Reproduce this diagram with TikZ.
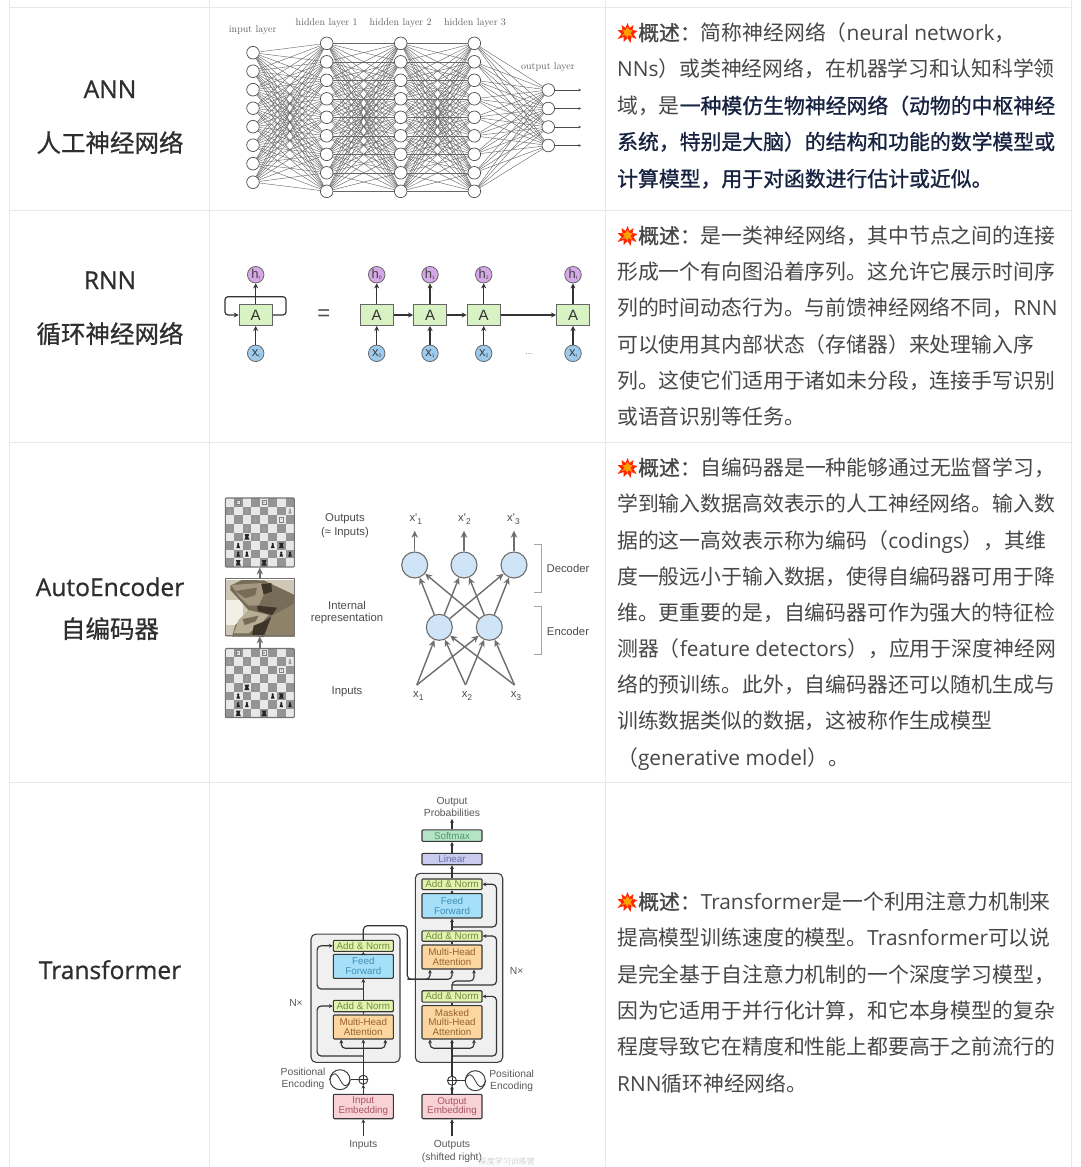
\documentclass[tikz,border=0pt]{standalone}
\usepackage{fontspec}
\usetikzlibrary{arrows.meta,shapes.geometric}
\setmainfont{Noto Sans CJK SC}
\newfontfamily\latf{Open Sans}
\newfontfamily\arl{Liberation Sans}
\newfontfamily\cjmed[FakeBold=0.7]{Noto Sans CJK SC}
\newfontfamily\cjsemi[FakeBold=1.1]{Noto Sans CJK SC}
\newfontfamily\latmed[FakeBold=0.7]{Open Sans}
\newfontfamily\lmr{Latin Modern Roman}
\newcommand{\la}[1]{{\latf #1}}
\newcommand{\bb}[1]{{\cjsemi #1}}
\newcommand{\fsz}[1]{\fontsize{#1}{#1}\selectfont}
\definecolor{rule}{HTML}{E8E8E8}
\definecolor{bodyc}{HTML}{474747}
\definecolor{navy}{HTML}{16223F}
\definecolor{ink}{HTML}{2E2E2E}
\definecolor{aegray}{HTML}{6E6E6E}
\definecolor{tline}{HTML}{333333}
\definecolor{rnng}{HTML}{D9F2C4}
\definecolor{rnnp}{HTML}{D6A8E8}
\definecolor{rnnb}{HTML}{9CCBEE}
\definecolor{aeblue}{HTML}{CFE4F6}
\definecolor{tgreen}{HTML}{6F8F3A}
\definecolor{tsoft}{HTML}{4F9A6C}
\definecolor{tlin}{HTML}{6D70A8}
\definecolor{tblue}{HTML}{3F8FB5}
\definecolor{torange}{HTML}{99622A}
\definecolor{tred}{HTML}{A85565}
\tikzset{
  rowtxt/.style={anchor=base west,inner sep=0pt,text=bodyc,font=\fsz{20.85}},
  lefttxt/.style={anchor=base,inner sep=0pt,text=ink,font=\fsz{24.5}\cjmed},
  leftlat/.style={anchor=base,inner sep=0pt,text=ink,font=\fsz{24.6}\latmed},
  neuron/.style={circle,draw=black!70,fill=white,line width=.7pt,minimum size=12.6pt,inner sep=0pt},
  nnedge/.style={draw=black!60,line width=.42pt},
  nnlab/.style={inner sep=0pt,text=black!62,font=\fsz{10}\lmr},
  rbox/.style={draw=black!60,fill=rnng,line width=1pt,minimum width=33pt,minimum height=21pt,inner sep=0pt,font=\fsz{15}\arl,text=black!80},
  rh/.style={circle,draw=black!60,fill=rnnp,line width=.8pt,minimum size=16.5pt,inner sep=0pt,font=\fsz{13}\arl,text=black!75},
  rx/.style={circle,draw=black!60,fill=rnnb,line width=.8pt,minimum size=16.5pt,inner sep=0pt,font=\fsz{13}\arl,text=black!75},
  rarrow/.style={draw=black!80,line width=1.2pt,-{Stealth[length=5pt,width=5pt]}},
  aelab/.style={inner sep=0pt,text=black!70,font=\fsz{11.3}\arl,align=center},
  aec/.style={circle,draw=aegray,fill=aeblue,line width=1.1pt,minimum size=26pt,inner sep=0pt},
  aearrow/.style={draw=aegray,line width=1.4pt,-{Stealth[length=7pt,width=6.5pt]}},
  aebrk/.style={draw=black!35,line width=.7pt},
  tbox/.style={draw=black!78,line width=1.1pt,rounded corners=1pt,minimum width=60pt,inner sep=0pt,align=center,font=\fsz{9.8}\arl},
  tbig/.style={draw=black!75,fill=black!6,line width=1.1pt,rounded corners=5pt},
  tlab/.style={inner sep=0pt,align=center,text=black!65,font=\fsz{10.3}\arl},
  tarrow/.style={draw=tline,line width=1.15pt,-{Stealth[length=3.8pt,width=3.8pt]}},
  tline/.style={draw=tline,line width=1.15pt},
  tres/.style={tarrow,rounded corners=4pt},
}
\newcommand{\boom}[2]{%
  \begin{scope}[shift={(#1,#2)}]
    \fill[red!70!orange] plot coordinates {(0,-10)(2,-5)(6,-8)(5,-3)(10,-2)(6,1)(9,6)(4,4)(3,10)(0,5)(-4,9)(-4,4)(-10,6)(-6,1)(-10,-3)(-5,-3)(-6,-8)(-2,-5)} -- cycle;
    \fill[orange!75!yellow] plot coordinates {(0,-6)(2,-3)(5,-3)(3,0)(5,4)(1,2)(0,5)(-2,2)(-6,3)(-3,0)(-5,-3)(-2,-3)} -- cycle;
  \end{scope}}
\newcommand{\pawnW}[2]{\fill[black!38] (#1,#2-1.5) circle (1.1pt);\fill[black!38] (#1-1.7,#2+2.6) -- (#1+1.7,#2+2.6) -- (#1+.6,#2-1) -- (#1-.6,#2-1) -- cycle;}
\newcommand{\pawnB}[2]{\fill[black!88] (#1,#2-1.5) circle (1.2pt);\fill[black!88] (#1-1.8,#2+2.6) -- (#1+1.8,#2+2.6) -- (#1+.6,#2-1) -- (#1-.6,#2-1) -- cycle;}
\newcommand{\bigW}[2]{\fill[black!8] (#1-2.4,#2-2.6) rectangle (#1+2.4,#2+2.6);\draw[black!50,line width=.6pt] (#1-2,#2-2.2) rectangle (#1+2,#2+2.2);\fill[black!35] (#1-.8,#2-.8) rectangle (#1+.8,#2+.8);}
\newcommand{\bigB}[2]{\fill[black!85] (#1-2.3,#2-2.6) -- (#1+2.3,#2-2.6) -- (#1+1.4,#2) -- (#1+2.6,#2+2.8) -- (#1-2.6,#2+2.8) -- (#1-1.4,#2) -- cycle;}
\newcommand{\chess}[3]{%
  \begin{scope}[shift={(#2,#3)}]
    \fill[black!9] (0,0) rectangle (69,69);
    \foreach \r in {0,...,7}{\foreach \c in {0,...,7}{%
      \pgfmathparse{int(mod(\r+\c,2))}%
      \ifnum\pgfmathresult=1 \fill[black!42] (\c*8.625,\r*8.625) rectangle +(8.625,8.625);\fi}}
    \bigW{12.9}{4.3}\bigW{38.8}{4.3}
    \pawnW{4.3}{12.9}\pawnW{21.6}{12.9}\pawnW{64.7}{12.9}
    \pawnW{30.2}{21.6}\bigW{56}{21.6}
    \pawnW{21.6}{30.2}\pawnW{38.8}{30.2}
    \bigB{21.6}{38.8}\pawnW{30.2}{38.8}
    \pawnB{12.9}{47.4}\pawnB{47.4}{47.4}\bigB{56}{47.4}
    \pawnB{12.9}{56}\pawnB{21.6}{56}\pawnB{56}{56}\pawnB{64.7}{56}
    \bigB{12.9}{64.7}\bigB{38.8}{64.7}
  \end{scope}
  \node[draw=black!55,line width=1.1pt,rounded corners=1pt,minimum width=69pt,minimum height=69pt,inner sep=0pt] (#1) at (#2+34.5,#3+34.5) {};}
\begin{document}
\begin{tikzpicture}[x=1pt,y=-1pt]
\useasboundingbox (0,0) rectangle (1080,1167);
\fill[white] (0,0) rectangle (1080,1167);
% table rules
\draw[rule,line width=1pt] (9.5,0) -- (9.5,1167) (209.5,0) -- (209.5,1167) (605,0) -- (605,1167) (1071,0) -- (1071,1167);
\draw[rule,line width=1pt] (9.5,7.5) -- (1071,7.5) (9.5,210) -- (1071,210) (9.5,442) -- (1071,442) (9.5,782) -- (1071,782);
% left column
\node[leftlat] (nann) at (110,98) {ANN};
\node[lefttxt] (cann) at (110,152) {人工神经网络};
\node[leftlat] (nrnn) at (110,289) {RNN};
\node[lefttxt] (crnn) at (110,343) {循环神经网络};
\node[leftlat] (nae) at (110,596) {AutoEncoder};
\node[lefttxt] (cae) at (110,638) {自编码器};
\node[leftlat] (ntr) at (110,979) {Transformer};
% right column text
\boom{627.5}{33}\boom{627.5}{236}\boom{627.5}{468}\boom{627.5}{902}
\node[rowtxt] (a1) at (638,40.5) {\bb{概述：}简称神经网络（\la{neural network}，};
\node[rowtxt] (a2) at (617,76.5) {\la{NNs}）或类神经网络，在机器学习和认知科学领};
\node[rowtxt] (a3) at (617,113.5) {域，是{\cjsemi\color{navy}一种模仿生物神经网络（动物的中枢神经}};
\node[rowtxt,text=navy,font=\fsz{20.85}\cjsemi] (a4) at (617,149.5) {系统，特别是大脑）的结构和功能的数学模型或};
\node[rowtxt,text=navy,font=\fsz{20.85}\cjsemi] (a5) at (617,186.5) {计算模型，用于对函数进行估计或近似。};
\node[rowtxt] (b1) at (638,243.5) {\bb{概述：}是一类神经网络，其中节点之间的连接};
\node[rowtxt] (b2) at (617,279.5) {形成一个有向图沿着序列。这允许它展示时间序};
\node[rowtxt] (b3) at (617,315.5) {列的时间动态行为。与前馈神经网络不同，\la{RNN}};
\node[rowtxt] (b4) at (617,352.5) {可以使用其内部状态（存储器）来处理输入序};
\node[rowtxt] (b5) at (617,388.5) {列。这使它们适用于诸如未分段，连接手写识别};
\node[rowtxt] (b6) at (617,424.5) {或语音识别等任务。};
\node[rowtxt] (c1) at (638,475.5) {\bb{概述：}自编码器是一种能够通过无监督学习，};
\node[rowtxt] (c2) at (617,511.5) {学到输入数据高效表示的人工神经网络。输入数};
\node[rowtxt] (c3) at (617,548.5) {据的这一高效表示称为编码（\la{codings}），其维};
\node[rowtxt] (c4) at (617,584.5) {度一般远小于输入数据，使得自编码器可用于降};
\node[rowtxt] (c5) at (617,620.5) {维。更重要的是，自编码器可作为强大的特征检};
\node[rowtxt] (c6) at (617,656.5) {测器（\la{feature detectors}），应用于深度神经网};
\node[rowtxt] (c7) at (617,692.5) {络的预训练。此外，自编码器还可以随机生成与};
\node[rowtxt] (c8) at (617,728.5) {训练数据类似的数据，这被称作生成模型};
\node[rowtxt] (c9) at (617,765.5) {（\la{generative model}）。};
\node[rowtxt] (d1) at (638,909.5) {\bb{概述：}\la{Transformer}是一个利用注意力机制来};
\node[rowtxt] (d2) at (617,945.5) {提高模型训练速度的模型。\la{Trasnformer}可以说};
\node[rowtxt] (d3) at (617,982.5) {是完全基于自注意力机制的一个深度学习模型，};
\node[rowtxt] (d4) at (617,1018.5) {因为它适用于并行化计算，和它本身模型的复杂};
\node[rowtxt] (d5) at (617,1054.5) {程度导致它在精度和性能上都要高于之前流行的};
\node[rowtxt] (d6) at (617,1091.5) {\la{RNN}循环神经网络。};
% ANN
\foreach \i in {1,...,8} \node[neuron] (i\i) at (253,34.2+18.5*\i) {};
\foreach \i in {1,...,9} {
  \node[neuron] (ha\i) at (326.7,24.8+18.5*\i) {};
  \node[neuron] (hb\i) at (400.7,24.8+18.5*\i) {};
  \node[neuron] (hc\i) at (474.3,24.8+18.5*\i) {};
}
\foreach \i in {1,...,4} {
  \node[neuron] (o\i) at (548.3,71.5+18.5*\i) {};
  \coordinate (oe\i) at (581,71.5+18.5*\i);
  \draw[draw=black!70,line width=.5pt,-{Stealth[length=2.5pt,width=2.5pt]}] (o\i) -- (oe\i);
}
\foreach \a in {1,...,8} \foreach \b in {1,...,9} \draw[nnedge] (i\a) -- (ha\b);
\foreach \a in {1,...,9} \foreach \b in {1,...,9} {\draw[nnedge] (ha\a) -- (hb\b); \draw[nnedge] (hb\a) -- (hc\b);}
\foreach \a in {1,...,9} \foreach \b in {1,...,4} \draw[nnedge] (hc\a) -- (o\b);
\node[nnlab] (li) at (252.7,30) {input layer};
\node[nnlab] (l1) at (326.7,23) {hidden layer 1};
\node[nnlab] (l2) at (400.7,23) {hidden layer 2};
\node[nnlab] (l3) at (475,23) {hidden layer 3};
\node[nnlab] (lo) at (548,67.5) {output layer};
% RNN
\node[rbox] (A) at (255.7,315) {A};
\node[rh] (h) at (255.7,274.7) {h\raisebox{-1pt}{\fsz{5}t}};
\node[rx] (x) at (255.7,353.3) {x\raisebox{-1pt}{\fsz{5}t}};
\draw[rarrow] (x) -- (A);
\draw[rarrow] (A) -- (h);
\coordinate (lpa) at (286,296.7);
\coordinate (lpb) at (225,296.7);
\draw[rarrow,rounded corners=3pt] (A.east) -| (lpa) -- (lpb) |- (A.west);
\node[inner sep=0pt,font=\fsz{22}\arl,text=black!70] (eq) at (323.7,315) {=};
\foreach \n/\px/\s in {0/376.7/0,1/430/1,2/483.7/2,3/573/t} {
  \node[rbox] (A\n) at (\px,315) {A};
  \node[rh] (h\n) at (\px,274.7) {h\raisebox{-1pt}{\fsz{5}\s}};
  \node[rx] (x\n) at (\px,353.3) {x\raisebox{-1pt}{\fsz{5}\s}};
  \draw[rarrow] (x\n) -- (A\n);
  \draw[rarrow] (A\n) -- (h\n);
}
\draw[rarrow] (A0) -- (A1);
\draw[rarrow] (A1) -- (A2);
\draw[rarrow] (A2) -- (A3);
\node[inner sep=0pt,font=\fsz{8}\arl,text=black!60] (dots) at (529,354) {...};
% AutoEncoder boards
\chess{bt}{225.3}{498}
\chess{bb}{225.3}{648.5}
\definecolor{thA}{HTML}{CFC8B6}\definecolor{thB}{HTML}{F2EFE6}\definecolor{thC}{HTML}{776C58}
\definecolor{thD}{HTML}{A39780}\definecolor{thE}{HTML}{3D3528}\definecolor{thF}{HTML}{B8AD95}\definecolor{thG}{HTML}{8E8269}
\begin{scope}[shift={(222,575)},scale=1/3]
  \fill[thA] (12,15) rectangle (218,185);
  \fill[thB] (12,75) rectangle (62,150);
  \fill[thC] (25,32) -- (60,15) -- (125,16) -- (150,28) -- (218,60) -- (218,185) -- (30,185) -- (40,150) -- (82,108) -- (50,72) -- (25,45) -- cycle;
  \fill[thD] (28,30) -- (118,24) -- (125,60) -- (110,92) -- (80,92) -- (52,65) -- cycle;
  \fill[thC] (40,48) -- (105,38) -- (100,60) -- (70,70) -- cycle;
  \fill[thE] (118,28) -- (148,24) -- (150,50) -- (125,58) -- cycle;
  \fill[thG] (145,125) -- (218,85) -- (218,185) -- (125,185) -- cycle;
  \fill[thE] (105,92) -- (165,98) -- (150,120) -- (108,108) -- cycle;
  \fill[thF] (50,135) -- (80,105) -- (140,120) -- (122,140) -- (80,175) -- (35,175) -- cycle;
  \fill[thC] (62,132) -- (110,122) -- (100,140) -- (68,150) -- cycle;
  \fill[thE] (95,152) -- (125,140) -- (148,125) -- (125,185) -- (90,182) -- cycle;
\end{scope}
\node[draw=black!55,line width=1.1pt,minimum width=69pt,minimum height=57pt,inner sep=0pt] (bm) at (259.8,607.3) {};
\draw[aearrow] (bm.north) -- (bt.south);
\draw[aearrow] (bb.north) -- (bm.south);
\node[aelab] (lo1) at (345,519) {Outputs};
\node[aelab] (lo2) at (345,533) {(≈ Inputs)};
\node[aelab] (lr1) at (347,605) {Internal};
\node[aelab] (lr2) at (347,618.5) {representation};
\node[aelab] (lr3) at (347,692) {Inputs};
\foreach \n/\px in {1/414.7,2/464,3/514} \node[aec] (D\n) at (\px,565) {};
\foreach \n/\px in {1/439.3,2/489.3} \node[aec] (E\n) at (\px,627.3) {};
\foreach \n/\px in {1/417.3,2/466,3/515} {
  \node[aelab] (X\n) at (\px+1,696) {x\raisebox{-3pt}{\fsz{8.5}\n}};
  \coordinate (Xa\n) at (\px-.5,685);
  \node[aelab] (Y\n) at (\px-1.5,519) {x'\raisebox{-3pt}{\fsz{8.5}\n}};
}
\foreach \n/\px in {1/414.7,2/464,3/514} {\coordinate (Ya\n) at (\px,530.7); \draw[aearrow] (D\n) -- (Ya\n);}
\foreach \a in {1,2,3} \foreach \b in {1,2} \draw[aearrow] (Xa\a) -- (E\b);
\foreach \a in {1,2} \foreach \b in {1,2,3} \draw[aearrow] (E\a) -- (D\b);
\coordinate (br1) at (534,544.3); \coordinate (br2) at (541,544.3); \coordinate (br3) at (541,592.3); \coordinate (br4) at (534,592.3);
\draw[aebrk] (br1) -- (br2) -- (br3) -- (br4);
\coordinate (bs1) at (534,606.7); \coordinate (bs2) at (541,606.7); \coordinate (bs3) at (541,654.3); \coordinate (bs4) at (534,654.3);
\draw[aebrk] (bs1) -- (bs2) -- (bs3) -- (bs4);
\node[aelab] (ldec) at (568,568.5) {Decoder};
\node[aelab] (lenc) at (568,631) {Encoder};
% Transformer
\node[tbig,minimum width=87.4pt,minimum height=189pt,inner sep=0pt] (bigD) at (459,967.8) {};
\node[tbig,minimum width=89pt,minimum height=128.3pt,inner sep=0pt] (bigE) at (355.5,998.2) {};
\definecolor{csoft}{HTML}{B5E3C5}\definecolor{clin}{HTML}{C9CBEF}\definecolor{cadd}{HTML}{E3F2B0}
\definecolor{cff}{HTML}{A6DFF8}\definecolor{cmh}{HTML}{FCD6A0}\definecolor{cemb}{HTML}{F9D2D6}
\node[tbox,fill=csoft,minimum height=11.4pt,text=tsoft] (Sf) at (452,835.6) {Softmax};
\node[tbox,fill=clin,minimum height=11.4pt,text=tlin] (Ln) at (452,859) {Linear};
\node[tbox,fill=cadd,minimum height=10.7pt,text=tgreen] (DA1) at (452,884.3) {Add \& Norm};
\node[tbox,fill=cff,minimum height=24.3pt,text=tblue] (DF) at (452,905.8) {Feed\\Forward};
\node[tbox,fill=cadd,minimum height=10.4pt,text=tgreen] (DA2) at (452,936) {Add \& Norm};
\node[tbox,fill=cmh,minimum height=24pt,text=torange] (DM) at (452,957) {Multi-Head\\Attention};
\node[tbox,fill=cadd,minimum height=11.3pt,text=tgreen] (DA3) at (452,996.4) {Add \& Norm};
\node[tbox,fill=cmh,minimum height=33.3pt,text=torange] (DMM) at (452,1022.3) {Masked\\Multi-Head\\Attention};
\node[tbox,fill=cemb,minimum height=24.4pt,text=tred] (OE) at (452,1106.5) {Output\\Embedding};
\node[tbox,fill=cadd,minimum height=11pt,text=tgreen] (EA1) at (363.3,945.8) {Add \& Norm};
\node[tbox,fill=cff,minimum height=24pt,text=tblue] (EF) at (363.3,966.3) {Feed\\Forward};
\node[tbox,fill=cadd,minimum height=11.4pt,text=tgreen] (EA2) at (363.3,1006) {Add \& Norm};
\node[tbox,fill=cmh,minimum height=24pt,text=torange] (EM) at (363.3,1027) {Multi-Head\\Attention};
\node[tbox,fill=cemb,minimum height=24.4pt,text=tred] (IE) at (363.3,1106.5) {Input\\Embedding};
\node[tlab] (op) at (452,807) {Output\\[2pt]Probabilities};
\coordinate (opa) at (452,819);
\node[tlab] (linp) at (363.3,1145.3) {Inputs};
\node[tlab] (loutp) at (452,1145.3) {Outputs};
\node[tlab] (lshift) at (452,1157.7) {(shifted right)};
\coordinate (ia) at (363.3,1136);
\coordinate (oa) at (452,1136);
\node[tlab] (nxd) at (516.7,971) {N×};
\node[tlab] (nxe) at (296,1002.7) {N×};
\node[tlab] (pe1) at (303,1078.7) {Positional\\[2pt]Encoding};
\node[tlab] (pe2) at (511.7,1080.7) {Positional\\[2pt]Encoding};
\node[circle,draw=black!75,fill=white,line width=1pt,minimum size=9pt,inner sep=0pt] (pe) at (363.3,1079.7) {};
\node[circle,draw=black!75,fill=white,line width=1pt,minimum size=9pt,inner sep=0pt] (pd) at (452,1080.7) {};
\draw[tline,line width=.7pt] (pe.north) -- (pe.south) (pe.west) -- (pe.east) (pd.north) -- (pd.south) (pd.west) -- (pd.east);
\node[circle,draw=black!75,fill=white,line width=1pt,minimum size=20pt,inner sep=0pt] (se) at (340,1079.7) {};
\node[circle,draw=black!75,fill=white,line width=1pt,minimum size=20pt,inner sep=0pt] (sd) at (475.3,1080.7) {};
\draw[tline,line width=.8pt] (se.west) .. controls +(4,-10) and +(-3,-6) .. (se.center) .. controls +(3,6) and +(-4,10) .. (se.east);
\draw[tline,line width=.8pt] (sd.west) .. controls +(4,-10) and +(-3,-6) .. (sd.center) .. controls +(3,6) and +(-4,10) .. (sd.east);
\draw[tline] (se) -- (pe);
\draw[tline] (sd) -- (pd);
\draw[tarrow] (Sf.north) -- (opa);
\draw[tarrow] (Ln.north) -- (Sf.south);
\draw[tarrow] (DA1.north) -- (Ln.south);
\draw[tarrow] (DF.north) -- (DA1.south);
\draw[tarrow] (DA2.north) -- (DF.south);
\draw[tline] (DM.north) -- (DA2.south);
\draw[tline] (DMM.north) -- (DA3.south);
\draw[tarrow] (pd) -- (DMM.south);
\draw[tarrow] (OE.north) -- (pd);
\draw[tarrow] (oa) -- (OE.south);
\draw[tarrow] (ia) -- (IE.south);
\draw[tarrow] (IE.north) -- (pe);
\draw[tarrow] (pe) -- (EM.south);
\draw[tline] (EM.north) -- (EA2.south);
\draw[tarrow] (EA2.north) -- (EF.south);
\draw[tarrow] (EF.north) -- (EA1.south);
% residuals
\coordinate (dr1) at (452,927); \coordinate (dr2) at (452,985); \coordinate (dr3) at (452,1056); \coordinate (dms) at (452,1048.3);
\coordinate (er1) at (363.3,1056); \coordinate (er2) at (363.3,989); \coordinate (ems) at (363.3,1048.3);
\draw[tres] (dr1) -| ([xshift=14pt]DA1.east) -- (DA1.east);
\draw[tres] (dr2) -| ([xshift=14pt]DA2.east) -- (DA2.east);
\draw[tres] (dr3) -| ([xshift=14pt]DA3.east) -- (DA3.east);
\draw[tres] (dms) -| ([xshift=-22pt]DMM.south);
\draw[tres] (dms) -| ([xshift=22pt]DMM.south);
\draw[tres] (er1) -| ([xshift=-15.6pt]EA2.west) -- (EA2.west);
\draw[tres] (er2) -| ([xshift=-15.6pt]EA1.west) -- (EA1.west);
\draw[tres] (ems) -| ([xshift=-22pt]EM.south);
\draw[tres] (ems) -| ([xshift=22pt]EM.south);
\coordinate (eo1) at (407.3,925.7); \coordinate (eo2) at (407.3,979.3); \coordinate (dq) at (452,981);
\draw[tres] (EA1.north) |- (eo1) -- (eo2) -| ([xshift=-22pt]DM.south);
\draw[tres] (eo2) -| (DM.south);
\draw[tres] (DA3.north) -- (dq) -| ([xshift=22pt]DM.south);
% watermark
\node[anchor=base east,inner sep=0pt,text=black!18,font=\fsz{8}] (wm) at (535,1164.5) {深度学习训练营};
\end{tikzpicture}
\end{document}
